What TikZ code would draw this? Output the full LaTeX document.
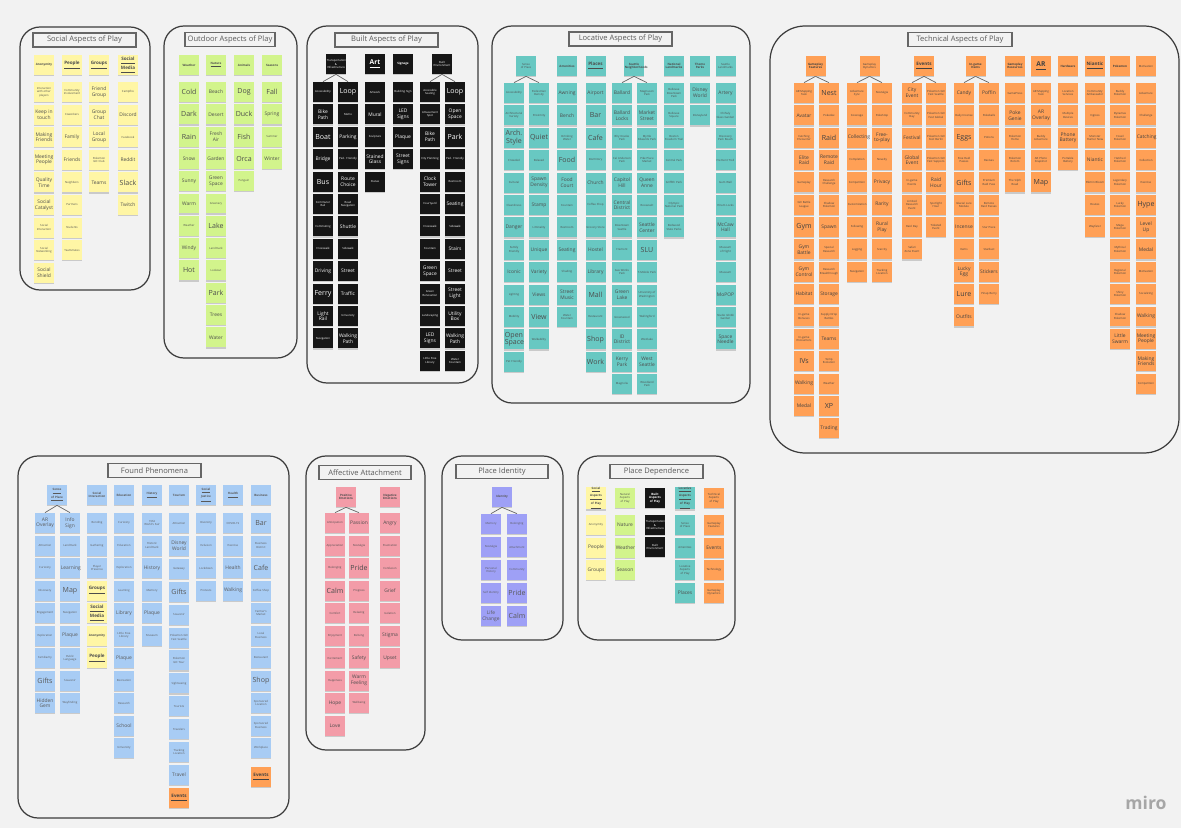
\documentclass[tikz,border=0pt]{standalone}
\usepackage{fontspec}
\setmainfont{Open Sans}
\usetikzlibrary{shadows}
\definecolor{mryellow}{RGB}{255,246,165}
\definecolor{mrgreen}{RGB}{210,244,140}
\definecolor{mrteal}{RGB}{104,200,194}
\definecolor{mrorange}{RGB}{255,160,86}
\definecolor{mrblue}{RGB}{168,204,244}
\definecolor{mrpink}{RGB}{243,156,168}
\definecolor{mrpurple}{RGB}{158,160,246}
\definecolor{mrblack}{RGB}{22,22,22}
\definecolor{mrbg}{RGB}{242,242,242}
\definecolor{mrframe}{RGB}{60,60,60}

% one column of sticky notes: name, x, first y, pitch, colour style, size/text list
\newcommand{\stickycol}[6]{%
  \foreach \fs/\txt [count=\k] in {#6}
    {\node[note, #5, \fs] (#1-\k) at ({#2}, {#3+#4*(\k-1)}) {\txt};}
}

\begin{document}
\begin{tikzpicture}[x=0.02cm, y=-0.02cm,
  note/.style={rectangle, minimum width=0.4cm, minimum height=0.4cm, inner sep=0.2pt,
               text width=0.37cm, align=center,
               execute at begin node={\hyphenpenalty=10000\exhyphenpenalty=10000},
               drop shadow={shadow xshift=0pt, shadow yshift=-0.7pt, opacity=0.35}},
  ntyel/.style={fill=mryellow, text=black!70},
  ntgrn/.style={fill=mrgreen, text=black!70},
  ntblk/.style={fill=mrblack, text=white},
  ntteal/.style={fill=mrteal, text=black!70},
  ntorg/.style={fill=mrorange, text=black!75},
  ntblue/.style={fill=mrblue, text=black!65},
  ntpink/.style={fill=mrpink, text=black!70},
  ntpurp/.style={fill=mrpurple, text=black!65},
  sm/.style={font={\fontsize{1.6}{1.9}\selectfont}},
  md/.style={font={\fontsize{2.8}{3.2}\selectfont}},
  bg/.style={font={\fontsize{4}{4.4}\selectfont}},
  hsm/.style={font={\bfseries\fontsize{1.7}{2}\selectfont}},
  hmd/.style={font={\bfseries\fontsize{2.6}{3}\selectfont}},
  hbg/.style={font={\bfseries\fontsize{3.8}{4.2}\selectfont}},
  frame/.style={draw=mrframe, line width=0.7pt, rounded corners=0.4cm},
  titlebox/.style={draw=black!60, line width=0.6pt, fill=mrbg, minimum width=#1,
                   minimum height=0.28cm, inner sep=0pt, text=black!65,
                   font={\fontsize{4.3}{5}\selectfont}},
  link/.style={draw=black!60, line width=0.4pt}
]
\fill[mrbg] (0,0) rectangle (1181,828);
\useasboundingbox (0,0) rectangle (1181,828);

% Frames
\draw[frame] (20,27) rectangle (150,290);
\draw[frame] (164,26) rectangle (297,358);
\draw[frame] (307,26) rectangle (478,383);
\draw[frame] (492,26) rectangle (750,403);
\draw[frame, rounded corners=0.7cm] (770,26) rectangle (1179,453);
\draw[frame] (18,456) rectangle (289,818);
\draw[frame] (306,456) rectangle (425,750);
\draw[frame] (442,456) rectangle (563,640);
\draw[frame] (578,456) rectangle (735,640);

\node[titlebox=2.06cm] (soc-title) at (84.5,40) {Social Aspects of Play};
\node[titlebox=1.8cm]  (out-title) at (230,39.5) {Outdoor Aspects of Play};
\node[titlebox=2.06cm] (bld-title) at (386.5,40) {Built Aspects of Play};
\node[titlebox=2.06cm] (loc-title) at (620.5,39) {Locative Aspects of Play};
\node[titlebox=2.08cm] (tec-title) at (960,39.5) {Technical Aspects of Play};
\node[titlebox=1.86cm] (fnd-title) at (154.5,470.5) {Found Phenomena};
\node[titlebox=1.84cm] (aff-title) at (365,472.5) {Affective Attachment};
\node[titlebox=1.84cm] (pid-title) at (502,471.5) {Place Identity};
\node[titlebox=1.86cm] (pdp-title) at (656.5,471.5) {Place Dependence};

% Social Aspects of Play
\node[note, ntyel, hsm] (soc-h1) at (44,65) {Anonymity};
\node[note, ntyel, hmd] (soc-h2) at (72,65) {\underline{People}};
\node[note, ntyel, hmd] (soc-h3) at (99,65) {\underline{Groups}};
\node[note, ntyel, hmd] (soc-h4) at (128,65) {\underline{Social}\\\underline{Media}};
\stickycol{soc1}{44}{92}{22.6}{ntyel}{sm/Interaction with other players, md/Keep in touch, md/Making Friends, md/Meeting People, md/Quality Time, md/Social Catalyst, sm/Social Interaction, sm/Social Networking, md/Social Shield}
\stickycol{soc2}{72}{92}{22.6}{ntyel}{sm/Community Involvement, sm/Coworkers, md/Family, md/Friends, sm/Neighbors, sm/Partners, sm/Students, sm/Teammates}
\stickycol{soc3}{99}{92}{22.6}{ntyel}{md/Friend Group, md/Group Chat, md/Local Group, sm/Pokemon GO Club, md/Teams}
\stickycol{soc4}{128}{92}{22.6}{ntyel}{sm/Campfire, md/Discord, sm/Facebook, md/Reddit, bg/Slack, md/Twitch}

% Outdoor Aspects of Play
\node[note, ntgrn, hsm] (out-h1) at (189,65) {Weather};
\node[note, ntgrn, hsm] (out-h2) at (216,65) {\underline{Nature}};
\node[note, ntgrn, hsm] (out-h3) at (244,65) {Animals};
\node[note, ntgrn, hsm] (out-h4) at (272,65) {Seasons};
\stickycol{out1}{189}{92}{22.3}{ntgrn}{bg/Cold, bg/Dark, bg/Rain, md/Snow, md/Sunny, md/Warm, sm/Weather, md/Windy, bg/Hot}
\stickycol{out2}{216}{92}{22.3}{ntgrn}{md/Beach, md/Desert, md/Fresh Air, md/Garden, md/Green Space, sm/Greenery, bg/Lake, sm/Landmark, sm/Lookout, bg/Park, md/Trees, md/Water}
\stickycol{out3}{244}{92}{22.3}{ntgrn}{bg/Dog, bg/Duck, bg/Fish, bg/Orca, sm/Penguin}
\stickycol{out4}{272}{92}{22.3}{ntgrn}{bg/Fall, md/Spring, sm/Summer, md/Winter}

% Built Aspects of Play
\node[note, ntblk, sm]  (bld-h1) at (336,64) {Transportation \& Infrastructure};
\node[note, ntblk, hbg] (bld-h2) at (375,64) {\underline{Art}};
\node[note, ntblk, hsm] (bld-h3) at (403,64) {Signage};
\node[note, ntblk, sm]  (bld-h4) at (442,64) {Built Environment};
\stickycol{bld1}{323}{92}{22.4}{ntblk}{sm/Accessibility, md/Bike Path, bg/Boat, md/Bridge, bg/Bus, sm/Commuter Rail, sm/Commuting, sm/Crosswalk, md/Driving, bg/Ferry, md/Light Rail, sm/Navigation}
\stickycol{bld2}{348}{92}{22.4}{ntblk}{bg/Loop, sm/Metro, md/Parking, sm/Ped. Friendly, md/Route Choice, sm/Road Navigation, md/Shuttle, sm/Sidewalk, md/Street, md/Traffic, sm/University, md/Walking Path}
\stickycol{bld3}{375}{92}{22.4}{ntblk}{sm/Artwork, md/Mural, sm/Sculpture, md/Stained Glass, sm/Statue}
\stickycol{bld4}{403}{92}{22.4}{ntblk}{sm/Building Sign, md/LED Signs, md/Plaque, md/Street Signs}
\stickycol{bld5}{430}{92}{22.4}{ntblk}{sm/Accessible Seating, sm/Amusement Spot, md/Bike Path, sm/City Planning, md/Clock Tower, sm/Courtyard, sm/Crosswalk, sm/Fountain, md/Green Space, sm/Green Renovation, sm/Landscaping, md/LED Signs, sm/Little Free Library}
\stickycol{bld6}{455}{92}{22.4}{ntblk}{bg/Loop, md/Open Space, bg/Park, sm/Ped. Friendly, sm/Restroom, md/Seating, sm/Sidewalk, md/Stairs, md/Street, md/Street\\Light, md/Utility Box, md/Walking Path, sm/Water Fountain}
\draw[link] (bld-h1.south) -- (bld1-1.north);
\draw[link] (bld-h1.south) -- (bld2-1.north);
\draw[link] (bld-h4.south) -- (bld5-1.north);
\draw[link] (bld-h4.south) -- (bld6-1.north);

% Locative Aspects of Play
\node[note, ntteal, sm]  (loc-h1) at (526,66) {Sense of Place};
\node[note, ntteal, hsm] (loc-h2) at (567,66) {Amenities};
\node[note, ntteal, hmd] (loc-h3) at (595.5,66) {\underline{Places}};
\node[note, ntteal, hsm] (loc-h4) at (634,66) {Seattle Neighborhoods};
\node[note, ntteal, hsm] (loc-h5) at (674,66) {National Landmarks};
\node[note, ntteal, hsm] (loc-h6) at (700,66) {Theme Parks};
\node[note, ntteal, sm]  (loc-h7) at (725.5,66) {Seattle Landmarks};
\stickycol{loc1}{514}{93}{22.4}{ntteal}{sm/Accessibility, sm/Architectural Variety, bg/Arch. Style, sm/Crowded, sm/Cultural, sm/Cleanliness, md/Danger, sm/Family Friendly, md/Iconic, sm/Lighting, sm/Mobility, bg/Open Space, sm/Pet Friendly}
\stickycol{loc2}{539}{93}{22.4}{ntteal}{sm/Pedestrian Density, sm/Proximity, bg/Quiet, sm/Relaxed, md/Spawn Density, md/Stamp, sm/Liminality, md/Unique, md/Variety, md/Views, bg/View, sm/Walkability}
\stickycol{loc3}{567}{93}{22.4}{ntteal}{md/Awning, md/Bench, sm/Drinking Water, bg/Food, md/Food Court, sm/Fountain, sm/Restroom, md/Seating, sm/Shading, md/Street Music, sm/Water Fountain}
\stickycol{loc4}{595.5}{93}{22.4}{ntteal}{md/Airport, bg/Bar, bg/Cafe, sm/Dormitory, md/Church, sm/Coffee Shop, sm/Grocery Store, md/Hostel, md/Library, bg/Mall, sm/Restaurant, bg/Shop, bg/Work}
\stickycol{loc5}{622}{93}{22.4}{ntteal}{md/Ballard, md/Ballard Locks, sm/Bhy Kracke Park, sm/Cal Anderson Park, md/Capitol Hill, md/Central District, sm/Downtown Seattle, sm/Fremont, sm/Gas Works Park, md/Green Lake, sm/Greenwood, md/ID District, md/Kerry Park, sm/Magnolia}
\stickycol{loc6}{647}{93}{22.4}{ntteal}{sm/Magnuson Park, md/Market Street, sm/Myrtle Edwards Park, sm/Pike Place Market, md/Queen Anne, sm/Roosevelt, md/Seattle Center, bg/SLU, sm/T-Mobile Park, sm/University of Washington, sm/Wallingford, sm/Westlake, md/West Seattle, sm/Woodland Park}
\stickycol{loc7}{674}{93}{22.4}{ntteal}{sm/Bellevue Downtown Park, sm/Bellevue Square, sm/Boston Freedom Trail, sm/Central Park, sm/Griffith Park, sm/Olympic National Park, sm/Redwood State Parks}
\stickycol{loc8}{700}{93}{22.4}{ntteal}{md/Disney World, sm/Disneyland}
\stickycol{loc9}{725.5}{93}{22.4}{ntteal}{md/Artery, sm/Chihuly Glass Garden, sm/Discovery Park Beach, sm/Fremont Troll, sm/Gum Wall, sm/Hiram Locks, md/McCaw Hall, sm/Museum of Flight, sm/Museum, md/MoPOP, sm/Studio Ghibli Garden, md/Space Needle}
\draw[link] (loc-h1.south) -- (loc1-1.north);
\draw[link] (loc-h1.south) -- (loc2-1.north);
\draw[link] (loc-h4.south) -- (loc5-1.north);
\draw[link] (loc-h4.south) -- (loc6-1.north);

% Technical Aspects of Play
\node[note, ntorg, hsm] (tec-h1) at (815.5,66) {Gameplay Features};
\node[note, ntorg, sm]  (tec-h2) at (869.5,66) {Gameplay Dynamics};
\node[note, ntorg, hmd] (tec-h3) at (924,66) {\underline{Events}};
\node[note, ntorg, hsm] (tec-h4) at (975.5,66) {In-game Items};
\node[note, ntorg, hsm] (tec-h5) at (1015,66) {Gameplay Resources};
\node[note, ntorg, hbg] (tec-h6) at (1041,66) {\underline{AR}};
\node[note, ntorg, hsm] (tec-h7) at (1068,66) {Hardware};
\node[note, ntorg, hmd] (tec-h8) at (1095,66) {\underline{Niantic}};
\node[note, ntorg, hsm] (tec-h9) at (1120,66) {Pokemon};
\node[note, ntorg, sm]  (tec-h10) at (1146,66) {Motivation};
\stickycol{tec1}{804}{93}{22.35}{ntorg}{sm/AR Mapping Task, md/Avatar, sm/Catching Encounter, md/Elite Raid, sm/Gameplay, sm/GO Battle League, bg/Gym, md/Gym Battle, md/Gym Control, md/Habitat, sm/In-game Bonuses, sm/In-game Encounters, bg/IVs, md/Walking, md/Medal}
\stickycol{tec2}{829}{93}{22.35}{ntorg}{bg/Nest, sm/Pokedex, bg/Raid, md/Remote Raid, sm/Research Challenge, sm/Shadow Pokemon, md/Spawn, sm/Special Research, sm/Research Breakthrough, md/Storage, sm/Supply Drop Battles, md/Teams, sm/Temp Evolution, sm/Weather, bg/XP, md/Trading}
\stickycol{tec3}{857}{93}{22.35}{ntorg}{sm/Adventure Sync, sm/Coverage, md/Collecting, sm/Completion, sm/Competition, sm/Customization, sm/Following, sm/Logging, sm/Navigation}
\stickycol{tec4}{882}{93}{22.35}{ntorg}{sm/Nostalgia, sm/PokeStop, md/Free-\\to-play, sm/Novelty, md/Privacy, md/Rarity, md/Rural Play, sm/Scarcity, sm/Tracking Location}
\stickycol{tec5}{912}{93}{22.35}{ntorg}{md/City Event, sm/Community Day, md/Festival, md/Global Event, sm/In-game Events, sm/Limited Research Event, sm/Raid Day, sm/Safari Zone Event}
\stickycol{tec6}{936}{93}{22.35}{ntorg}{sm/Pokemon GO Fest Seattle, sm/Pokemon GO Fest Global, sm/Pokemon GO Fest Berlin, sm/Pokemon GO Fest Sapporo, md/Raid Hour, sm/Spotlight Hour, sm/Ticketed Event}
\stickycol{tec7}{964}{93}{22.35}{ntorg}{md/Candy, sm/Daily Incense, bg/Eggs, sm/Free Raid Passes, bg/Gifts, sm/Glacial Lure Module, md/Incense, sm/Items, md/Lucky Egg, bg/Lure, md/Outfits}
\stickycol{tec8}{989}{93}{22.35}{ntorg}{md/Poffin, sm/Pokeballs, sm/Potions, sm/Revives, sm/Premium Raid Pass, sm/Remote Raid Passes, sm/Star Piece, sm/Stardust, md/Stickers, sm/Pinap Berry}
\stickycol{tec9}{1015}{93}{22.35}{ntorg}{sm/GamePress, md/Poke Genie, sm/Pokemon Home, sm/Pokemon Rotom, sm/The Silph Road}
\stickycol{tec10}{1041}{93}{22.35}{ntorg}{sm/AR Mapping Task, md/AR Overlay, sm/Buddy Adventure, sm/AR Photo Snapshot, bg/Map}
\stickycol{tec11}{1068}{93}{22.35}{ntorg}{sm/Location Services, sm/Multiple Devices, md/Phone Battery, sm/Portable Battery}
\stickycol{tec12}{1095}{93}{22.35}{ntorg}{sm/Community Ambassador, sm/Ingress, sm/Monster Hunter Now, md/Niantic, sm/Pikmin Bloom, sm/Routes, sm/Wayfarer}
\stickycol{tec13}{1120}{93}{22.35}{ntorg}{sm/Buddy Pokemon, sm/Dynamax Pokemon, sm/Fossil Pokemon, sm/Hatched Pokemon, sm/Legendary Pokemon, sm/Lucky Pokemon, sm/Mega Pokemon, sm/Mythical Pokemon, sm/Regional Pokemon, sm/Shiny Pokemon, sm/Shadow Pokemon, md/Little Swarm}
\stickycol{tec14}{1146}{93}{22.35}{ntorg}{sm/Adventure, sm/Challenge, md/Catching, sm/Collection, sm/Exercise, bg/Hype, md/Level Up, md/Medal, sm/Motivation, sm/Socializing, md/Walking, md/Meeting People, md/Making Friends, sm/Competition}
\draw[link] (tec-h1.south) -- (tec1-1.north);
\draw[link] (tec-h1.south) -- (tec2-1.north);
\draw[link] (tec-h2.south) -- (tec3-1.north);
\draw[link] (tec-h2.south) -- (tec4-1.north);
\draw[link] (tec-h3.south) -- (tec5-1.north);
\draw[link] (tec-h3.south) -- (tec6-1.north);
\draw[link] (tec-h4.south) -- (tec7-1.north);
\draw[link] (tec-h4.south) -- (tec8-1.north);

% Found Phenomena
\node[note, ntblue, hsm] (fnd-h1) at (57,495) {\underline{Sense}\\\underline{of Place}};
\node[note, ntblue, hsm] (fnd-h3) at (97,495) {Social Interaction};
\node[note, ntblue, hsm] (fnd-h4) at (124,495) {Education};
\node[note, ntblue, hsm] (fnd-h5) at (152,495) {\underline{History}};
\node[note, ntblue, hsm] (fnd-h6) at (179,495) {Tourism};
\node[note, ntblue, hsm] (fnd-h7) at (206,495) {\underline{Social}\\\underline{Justice}};
\node[note, ntblue, hsm] (fnd-h8) at (233,495) {\underline{Health}};
\node[note, ntblue, hsm] (fnd-h9) at (261,495) {Business};
\stickycol{fnd1}{45}{523}{22.5}{ntblue}{md/AR Overlay, sm/Attraction, sm/Curiosity, sm/Discovery, sm/Engagement, sm/Exploration, sm/Familiarity, bg/Gifts, md/Hidden Gem}
\stickycol{fnd2}{70}{523}{22.5}{ntblue}{md/Info Sign, sm/Landmark, md/Learning, bg/Map, sm/Navigation, md/Plaque, sm/Public Language, sm/Souvenir, sm/Wayfinding}
\stickycol{fnd3}{97}{523}{22.5}{ntblue}{sm/Bonding, sm/Gathering, sm/Player Presence}
\stickycol{fnd3y}{97}{590.5}{22.5}{ntyel}{hmd/\underline{Groups}, hmd/\underline{Social}\\\underline{Media}, hsm/Anonymity, hmd/\underline{People}}
\stickycol{fnd4}{124}{523}{22.5}{ntblue}{sm/Curiosity, sm/Education, sm/Exploration, sm/Learning, md/Library, sm/Little Free Library, md/Plaque, sm/Recreation, sm/Research, md/School, sm/University}
\stickycol{fnd5}{152}{523}{22.5}{ntblue}{sm/1962 World's Fair, sm/Historic Landmark, md/History, sm/Memory, md/Plaque, sm/Museum}
\stickycol{fnd6}{179}{523}{22.9}{ntblue}{sm/Attraction, md/Disney World, sm/Getaway, bg/Gifts, sm/Souvenir, sm/Pokemon GO Fest Seattle, sm/Pokemon GO Tour, sm/Sightseeing, sm/Tourists, sm/Travelers, sm/Tracking Location, md/Travel}
\node[note, ntorg, hmd] (fnd6-ev) at (179,798) {\underline{Events}};
\stickycol{fnd7}{206}{523}{22.5}{ntblue}{sm/Diversity, sm/Inclusion, sm/Lockdown, sm/Protests}
\stickycol{fnd8}{233}{523}{22.5}{ntblue}{sm/COVID-19, sm/Exercise, md/Health, md/Walking}
\stickycol{fnd9}{261}{523}{22.5}{ntblue}{bg/Bar, sm/Business District, bg/Cafe, sm/Coffee Shop, sm/Farmer's Market, sm/Local Business, sm/Restaurant, bg/Shop, sm/Sponsored Location, sm/Sponsored Business, sm/Workplace}
\node[note, ntorg, hmd] (fnd9-ev) at (261,777) {\underline{Events}};
\draw[link] (fnd-h1.south) -- (fnd1-1.north);
\draw[link] (fnd-h1.south) -- (fnd2-1.north);

% Affective Attachment
\node[note, ntpink, hsm] (aff-h1) at (346,497) {Positive Emotions};
\node[note, ntpink, hsm] (aff-h2) at (390,497) {Negative Emotions};
\stickycol{aff1}{335}{523}{22.5}{ntpink}{sm/Anticipation, sm/Appreciation, sm/Belonging, bg/Calm, sm/Comfort, sm/Enjoyment, sm/Excitement, sm/Happiness, md/Hope, md/Love}
\stickycol{aff2}{359}{523}{22.5}{ntpink}{md/Passion, sm/Nostalgia, bg/Pride, sm/Progress, sm/Relaxing, sm/Reliving, md/Safety, md/Warm Feeling, sm/Wellbeing}
\stickycol{aff3}{390}{523}{22.5}{ntpink}{md/Angry, sm/Frustration, sm/Confusion, md/Grief, sm/Isolation, md/Stigma, md/Upset}
\draw[link] (aff-h1.south) -- (aff1-1.north);
\draw[link] (aff-h1.south) -- (aff2-1.north);

% Place Identity
\node[note, ntpurp, hsm] (pid-h1) at (502,497) {Identity};
\stickycol{pid1}{491}{524}{23}{ntpurp}{sm/Memory, sm/Nostalgia, sm/Personal History, sm/Self Identity, md/Life Change}
\stickycol{pid2}{517}{524}{23}{ntpurp}{sm/Belonging, sm/Attachment, sm/Community, bg/Pride, bg/Calm}
\draw[link] (pid-h1.south) -- (pid1-1.north);
\draw[link] (pid-h1.south) -- (pid2-1.north);

% Place Dependence
\node[note, ntyel, hsm]  (pdp-h1) at (596,498) {\underline{Social}\\\underline{Aspects}\\\underline{of Play}};
\node[note, ntgrn, sm]   (pdp-h2) at (625,498) {Natural Aspects of Play};
\node[note, ntblk, hsm]  (pdp-h3) at (655,498) {Built Aspects of Play};
\node[note, ntteal, hsm] (pdp-h4) at (685,498) {\underline{Locative}\\\underline{Aspects}\\\underline{of Play}};
\node[note, ntorg, sm]   (pdp-h5) at (714,498) {Technical Aspects of Play};
\stickycol{pdp1}{596}{525}{22.5}{ntyel}{sm/Anonymity, md/People, md/Groups}
\stickycol{pdp2}{625}{525}{22.5}{ntgrn}{md/Nature, md/Weather, md/Season}
\stickycol{pdp3}{655}{525}{22}{ntblk}{sm/Transportation \& Infrastructure, sm/Built Environment}
\stickycol{pdp4}{685}{525}{22.5}{ntteal}{sm/Sense of Place, sm/Amenities, sm/Locative Aspects of Play, md/Places}
\stickycol{pdp5}{714}{525}{22.5}{ntorg}{sm/Gameplay Features, md/Events, sm/Technology, sm/Gameplay Dynamics}

\node[text=black!35, font=\bfseries\fontsize{10}{12}\selectfont] (miro) at (1146,803) {miro};
\end{tikzpicture}
\end{document}
